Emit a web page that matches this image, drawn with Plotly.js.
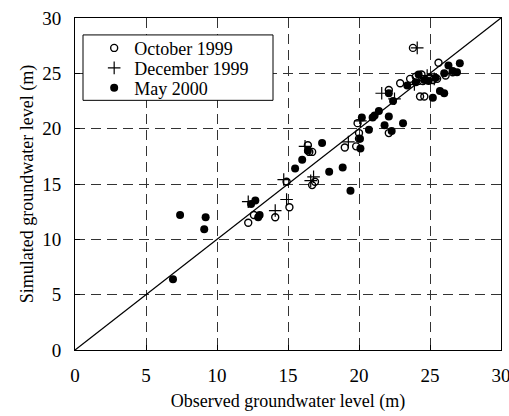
<!DOCTYPE html>
<html>
<head>
<meta charset="utf-8">
<script src="https://cdn.plot.ly/plotly-3.0.1.min.js"></script>
<style>html,body{margin:0;padding:0;background:#fff;}#chart{width:509px;height:416px;}</style>
</head>
<body>
<div id="chart"></div>
<script>
const octX = [12.2,12.6,14.1,15.1,14.9,16.7,16.9,16.4,16.5,16.7,19.0,19.8,20.0,20.0,19.9,22.1,22.1,22.9,23.8,24.3,24.6,25.6,23.6,24.0,24.5,25.0,25.5,26.1,24.4,25.2,26.6];
const octY = [11.5,12.2,12.0,12.9,15.2,14.9,15.2,18.5,17.9,17.9,18.3,18.4,19.6,19.1,20.5,19.6,23.5,24.1,27.3,22.9,22.9,25.95,24.5,24.7,24.3,24.6,24.5,24.8,24.9,24.4,25.1];
const decX = [12.2,14.1,14.9,14.7,16.2,16.8,19.25,21.6,24.1,20.1,22.5,24.8,25.3,23.9,16.6];
const decY = [13.4,12.6,13.6,15.4,18.4,15.65,18.8,23.2,27.3,20.7,22.7,24.8,24.5,24.0,15.3];
const mayX = [6.9,7.4,9.2,9.1,12.4,12.7,12.9,13.0,15.5,16.0,16.4,17.4,17.9,18.85,19.4,20.1,20.07,20.2,20.7,20.96,21.1,21.4,21.8,22.1,22.3,23.1,22.4,22.1,23.4,24.2,24.6,24.9,25.2,25.7,26.0,26.3,27.1,26.0,26.6,26.9,25.4,24.0];
const mayY = [6.4,12.2,12.0,10.9,13.2,13.5,12.0,12.2,16.4,17.2,18.0,18.7,16.1,16.5,14.4,18.2,19.1,21.0,19.9,21.0,21.2,21.6,20.3,21.1,19.8,20.5,22.5,23.2,23.9,24.9,24.4,24.3,22.8,23.4,23.2,25.7,25.9,25.0,25.2,25.1,24.6,24.2];
const oneToOne = [0, 30];
const tickVals = [0,5,10,15,20,25,30];
const seriesNames = ['October 1999','December 1999','May 2000'];

const FAM = 'Liberation Serif';
const f = (size) => ({family: FAM, size: size, color: '#000'});
const traces = [
  {x: oneToOne, y: oneToOne, mode: 'lines', line: {color: '#000', width: 1.3}, showlegend: false, hoverinfo: 'skip'},
  {x: octX, y: octY, mode: 'markers', name: seriesNames[0], legend: 'legend',
   marker: {symbol: 'circle-open', size: 7, color: '#000', line: {width: 1.4, color: '#000'}}},
  {x: decX, y: decY, mode: 'markers', name: seriesNames[1], legend: 'legend2',
   marker: {symbol: 'cross-thin-open', size: 9, color: '#000', line: {width: 1.2, color: '#000'}}},
  {x: mayX, y: mayY, mode: 'markers', name: seriesNames[2], legend: 'legend3',
   marker: {symbol: 'circle', size: 8, color: '#000'}}
];
function axis(extra) {
  return Object.assign({
    range: [0, 30], tickvals: tickVals, ticks: 'inside', ticklen: 5, tickcolor: '#000',
    showline: true, linecolor: '#000', linewidth: 1, mirror: true,
    showgrid: true, gridcolor: '#333', griddash: '10px,6px', gridwidth: 1,
    zeroline: false, tickfont: f(19), fixedrange: true, automargin: false,
    ticklabeloverflow: 'allow'
  }, extra);
}
function leg(y) {
  return {x: 0.045, y: y, xanchor: 'left', yanchor: 'middle', bgcolor: 'rgba(0,0,0,0)', borderwidth: 0,
    font: f(18), itemwidth: 30};
}
const layout = {
  width: 509, height: 416,
  margin: {l: 75, r: 8, t: 18, b: 66},
  paper_bgcolor: '#fff', plot_bgcolor: '#fff',
  font: f(18),
  showlegend: true,
  legend: leg(0.909),
  legend2: leg(0.849),
  legend3: leg(0.789),
  shapes: [{type: 'rect', xref: 'paper', yref: 'paper', x0: 0.0188, x1: 0.4648, y0: 0.752, y1: 0.949,
    line: {color: '#000', width: 1}, fillcolor: '#fff', layer: 'above'}],
  xaxis: axis({ticklabelstandoff: 8,
    title: {text: 'Observed groundwater level (m)', font: f(18), standoff: 9}}),
  yaxis: axis({ticklabelstandoff: 9,
    title: {text: 'Simulated groundwater level (m)', font: f(18), standoff: 3}})
};
Plotly.newPlot('chart', traces, layout, {displayModeBar: false, staticPlot: true});
</script>
</body>
</html>
